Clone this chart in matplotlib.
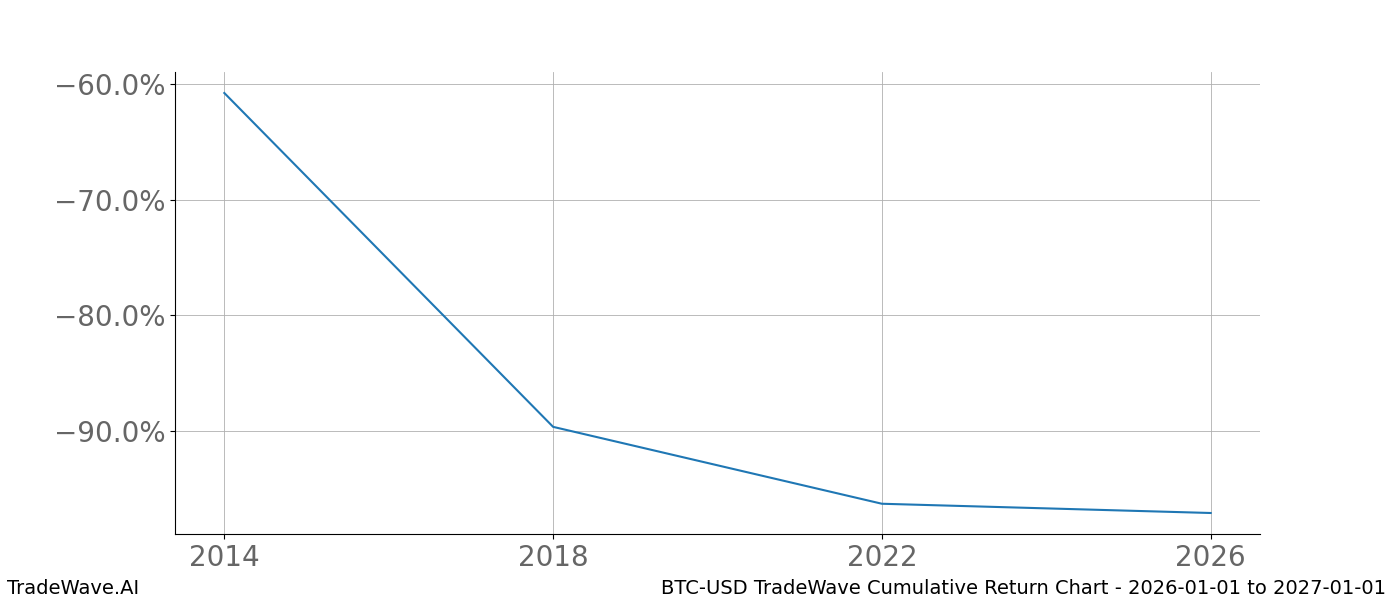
import matplotlib
matplotlib.use("Agg")
import matplotlib.pyplot as plt
from matplotlib.ticker import FuncFormatter

years = [2014, 2018, 2022, 2026]
cum_return = [-60.78, -89.65, -96.3, -97.1]

fig = plt.figure(figsize=(14, 6), dpi=100)
ax = fig.add_axes([0.125, 0.11, 0.775, 0.77])
ax.plot(years, cum_return, color="#1f77b4", linewidth=1.5)
ax.set_xticks([2014, 2018, 2022, 2026])
ax.set_yticks([-90, -80, -70, -60])
ax.yaxis.set_major_formatter(FuncFormatter(lambda v, p: f"{v:.1f}%".replace("-", "\u2212")))
ax.grid(True, color="#b0b0b0", linewidth=0.6)
ax.spines["top"].set_visible(False)
ax.spines["right"].set_visible(False)
ax.tick_params(axis="both", labelsize=20, labelcolor="#666666")
fig.text(0.005, 0.003, "TradeWave.AI", fontsize=14, ha="left", va="bottom")
fig.text(0.99, 0.003, "BTC-USD TradeWave Cumulative Return Chart - 2026-01-01 to 2027-01-01",
         fontsize=14, ha="right", va="bottom")
fig.savefig("out.png")
